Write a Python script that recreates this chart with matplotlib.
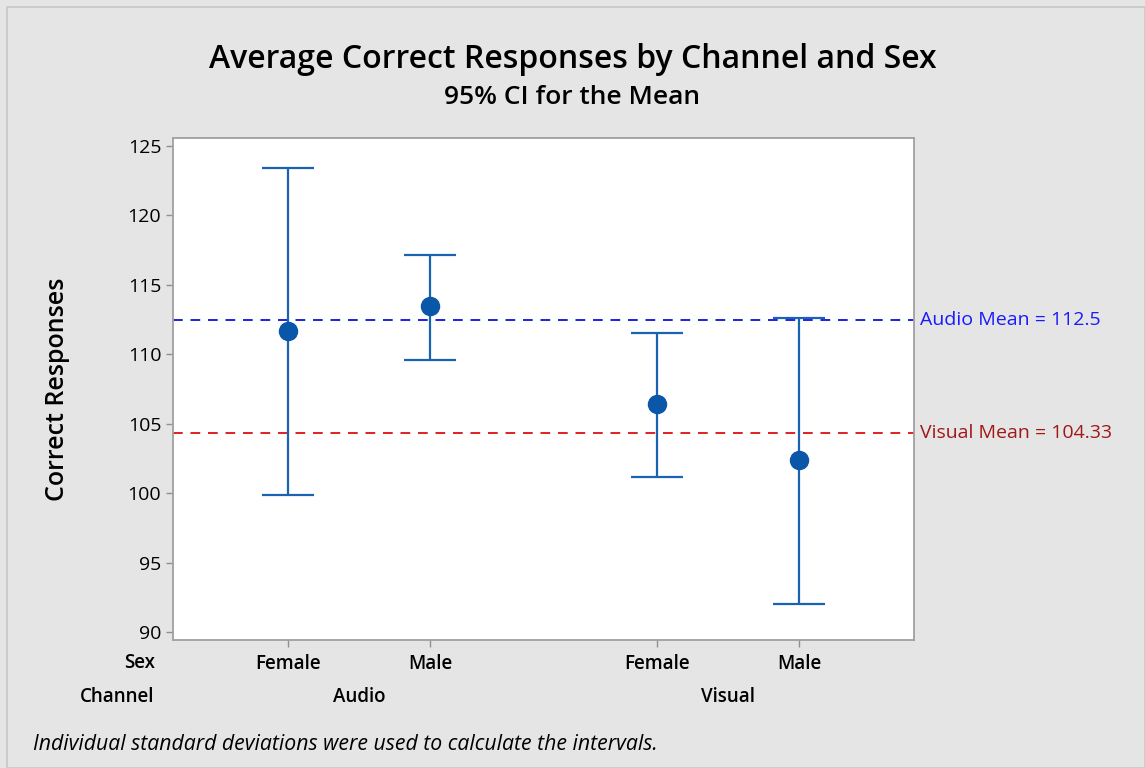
import matplotlib
matplotlib.use('Agg')
import matplotlib.pyplot as plt
from matplotlib.patches import Rectangle

# dados
channels = ["Audio", "Visual"]
sexes = ["Female", "Male", "Female", "Male"]
x_pos = [1.0, 2.0, 3.6, 4.6]
means = [111.7, 113.45, 106.4, 102.35]
lower = [99.9, 109.6, 101.15, 92.0]
upper = [123.45, 117.15, 111.55, 112.65]
audio_mean = 112.5
visual_mean = 104.33
y_ticks = [90, 95, 100, 105, 110, 115, 120, 125]

plt.rcParams['font.family'] = ['Open Sans', 'DejaVu Sans']

W, H = 1145, 768
fig = plt.figure(figsize=(W / 100, H / 100), dpi=100)
fig.patch.set_facecolor('#e5e5e5')
fig.patches.append(Rectangle((7 / W, 0), 1 - 7 / W, 1 - 7 / H, transform=fig.transFigure,
                             fill=False, edgecolor='#c8c8c8', linewidth=1.2))

ax = fig.add_axes([173 / W, 1 - 640 / H, (914 - 173) / W, (640 - 138) / H])
ax.set_facecolor('white')

err_lo = [m - l for m, l in zip(means, lower)]
err_hi = [u - m for m, u in zip(means, upper)]
ax.errorbar(x_pos, means, yerr=[err_lo, err_hi], fmt='o', color='#0a56a8',
            ecolor='#1a63b3', elinewidth=1.6, capsize=19, capthick=1.6,
            markersize=13, zorder=3)

ax.axhline(audio_mean, color='#2020e0', linestyle=(0, (5, 4)), linewidth=1.4, zorder=2)
ax.axhline(visual_mean, color='#e02020', linestyle=(0, (5, 4)), linewidth=1.4, zorder=2)
ax.text(1.008, audio_mean, f"Audio Mean = {audio_mean:g}", transform=ax.get_yaxis_transform(),
        color='#1a1aff', fontsize=14, va='center', ha='left')
ax.text(1.008, visual_mean, f"Visual Mean = {visual_mean:g}", transform=ax.get_yaxis_transform(),
        color='#a01818', fontsize=14, va='center', ha='left')

ax.set_xlim(0.19, 5.41)
ax.set_ylim(89.42, 125.58)
ax.set_yticks(y_ticks)
ax.set_xticks(x_pos)
ax.set_xticklabels(sexes)
ax.tick_params(axis='both', colors='#909090', labelcolor='black', labelsize=14, length=5, width=1)
ax.tick_params(axis='x', pad=5)
for lbl in ax.get_xticklabels():
    lbl.set_fontweight('semibold')
    lbl.set_fontsize(13.5)
for s in ax.spines.values():
    s.set_color('#a0a0a0')
    s.set_linewidth(1.3)

ax.set_ylabel("Correct Responses", fontsize=18, fontweight='semibold')
ax.yaxis.set_label_coords(-0.139, 0.5)

# rótulos hierárquicos
tr = ax.get_xaxis_transform()
fig.text(140 / W, 1 - 663 / H, "Sex", fontsize=13.5, fontweight='semibold', ha='center', va='center')
fig.text(117 / W, 1 - 697 / H, "Channel", fontsize=13.5, fontweight='semibold', ha='center', va='center')
ax.text((x_pos[0] + x_pos[1]) / 2, -57 / 502, channels[0], transform=tr, fontsize=13.5,
        fontweight='semibold', ha='center', va='center')
ax.text((x_pos[2] + x_pos[3]) / 2, -57 / 502, channels[1], transform=tr, fontsize=13.5,
        fontweight='semibold', ha='center', va='center')

fig.text(0.5, 1 - 60 / H, "Average Correct Responses by Channel and Sex", fontsize=23,
         fontweight='semibold', ha='center', va='center')
fig.text(0.5, 1 - 97 / H, "95% CI for the Mean", fontsize=19, fontweight='semibold',
         ha='center', va='center')
fig.text(33 / W, 1 - 745 / H, "Individual standard deviations were used to calculate the intervals.",
         fontsize=15.3, style='italic', ha='left', va='center')

fig.savefig("out.png", dpi=100, facecolor=fig.get_facecolor())
plt.close(fig)
